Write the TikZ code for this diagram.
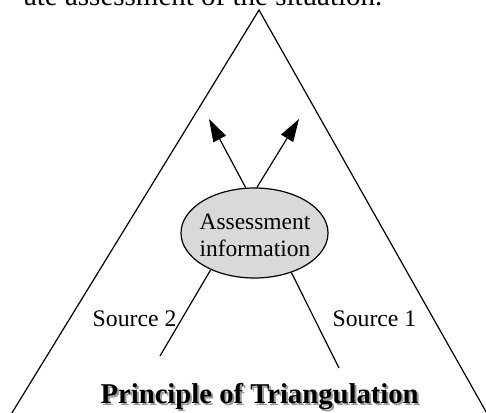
\documentclass[tikz,border=0pt]{standalone}
\usepackage{fontspec}
\setmainfont{Liberation Serif}
\usetikzlibrary{shapes.geometric,arrows.meta}
\definecolor{infogray}{RGB}{217,217,217}
\definecolor{shadowgray}{RGB}{155,155,155}

\begin{document}
\begin{tikzpicture}[x=0.75pt,y=-0.75pt,line width=0.9pt,
  infobox/.style={ellipse,draw,fill=infogray,minimum width=110.25pt,minimum height=67.5pt,inner sep=0pt},
  infotext/.style={align=center,inner sep=0pt,font=\fontsize{17.6}{20.25}\selectfont},
  srclabel/.style={inner sep=0pt,font=\fontsize{17.8}{20}\selectfont},
  headline/.style={inner sep=0pt,anchor=base west,font=\fontsize{21.5}{24}\selectfont\bfseries},
  toparrow/.style={-{Triangle[length=17pt,width=10.5pt]}}]
\useasboundingbox (0,0) rectangle (486,412);
\clip (0,0) rectangle (486,412);
\node[inner sep=0pt,anchor=base east,font=\fontsize{21.75}{24}\selectfont] (lead) at (383,5.5) {ate assessment of the situation.};
\coordinate (apex) at (259,10);
\coordinate (leftfoot) at (7.6,420);
\coordinate (rightfoot) at (490.7,420);
\draw (leftfoot) -- (apex) -- (rightfoot);
\node[infobox] (info) at (254.5,233) {};
\node[infotext] (infolabel) at (255,235.5) {Assessment\\information};
\coordinate (tipL) at (209,119);
\coordinate (tipR) at (299,119);
\draw[toparrow] (info.101) -- (tipL);
\draw[toparrow] (info.87) -- (tipR);
\coordinate (src2) at (160,356);
\coordinate (src1) at (339,368);
\draw (info.220) -- (src2);
\draw (info.313) -- (src1);
\node[srclabel,anchor=base east] (srctwo) at (177,326) {Source 2};
\node[srclabel,anchor=base west] (srcone) at (332,326) {Source 1};
\node[headline,text=shadowgray] (titleshadow) at (102,405) {Principle of Triangulation};
\node[headline] (title) at (100,403) {Principle of Triangulation};
\end{tikzpicture}
\end{document}
